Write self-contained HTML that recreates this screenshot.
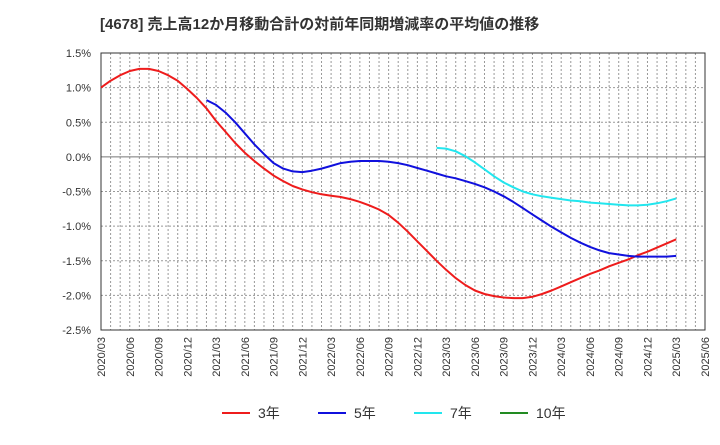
<!DOCTYPE html>
<html><head><meta charset="utf-8"><style>
body{margin:0;background:#fff;font-family:"Liberation Sans","Noto Sans CJK JP",sans-serif}
svg text{font-family:"Liberation Sans","Noto Sans CJK JP",sans-serif}
</style></head><body>
<svg id="c" width="720" height="440" xmlns="http://www.w3.org/2000/svg">
<text x="100" y="29" font-size="15" font-weight="bold" fill="#333">[4678]  売上高12か月移動合計の対前年同期増減率の平均値の推移</text>
<g id="grid"></g><g id="axes"></g><g id="series"></g><g id="legend"></g>
</svg>
<script>
const yTicks=[1.5,1.0,0.5,0.0,-0.5,-1.0,-1.5,-2.0,-2.5];
const xLabels=["2020/03","2020/06","2020/09","2020/12","2021/03","2021/06","2021/09","2021/12","2022/03","2022/06","2022/09","2022/12","2023/03","2023/06","2023/09","2023/12","2024/03","2024/06","2024/09","2024/12","2025/03","2025/06"];
const s3Start=0;
const s3=[1.00,1.10,1.18,1.24,1.27,1.27,1.24,1.18,1.10,0.98,0.85,0.70,0.52,0.36,0.20,0.06,-0.06,-0.17,-0.27,-0.35,-0.42,-0.47,-0.51,-0.54,-0.56,-0.58,-0.61,-0.65,-0.70,-0.76,-0.84,-0.95,-1.08,-1.22,-1.36,-1.50,-1.63,-1.75,-1.85,-1.93,-1.98,-2.01,-2.03,-2.04,-2.04,-2.02,-1.98,-1.93,-1.87,-1.81,-1.75,-1.69,-1.64,-1.58,-1.53,-1.48,-1.42,-1.37,-1.31,-1.25,-1.19];
const s5Start=11;
const s5=[0.82,0.75,0.64,0.50,0.34,0.18,0.04,-0.09,-0.17,-0.21,-0.22,-0.20,-0.17,-0.13,-0.09,-0.07,-0.06,-0.06,-0.06,-0.07,-0.09,-0.12,-0.16,-0.20,-0.24,-0.28,-0.31,-0.35,-0.39,-0.44,-0.50,-0.57,-0.65,-0.74,-0.83,-0.92,-1.01,-1.09,-1.17,-1.24,-1.30,-1.35,-1.39,-1.41,-1.43,-1.44,-1.44,-1.44,-1.44,-1.43];
const s7Start=35;
const s7=[0.13,0.12,0.08,0.01,-0.08,-0.18,-0.28,-0.37,-0.44,-0.50,-0.54,-0.57,-0.59,-0.61,-0.63,-0.64,-0.66,-0.67,-0.68,-0.69,-0.70,-0.70,-0.69,-0.67,-0.64,-0.60];
const s10Start=0;
const s10=[];
const NS="http://www.w3.org/2000/svg";
const L=101,R=705,T=53,B=330,yMax=1.5,yMin=-2.5,nMonths=63;
const xS=i=>L+(R-L)*i/nMonths;
const yS=v=>T+(B-T)*(yMax-v)/(yMax-yMin);
function mk(tag,attrs,parent){const e=document.createElementNS(NS,tag);for(const k in attrs)e.setAttribute(k,attrs[k]);parent.appendChild(e);return e;}
const grid=document.getElementById('grid'),axes=document.getElementById('axes'),ser=document.getElementById('series'),leg=document.getElementById('legend');
for(let m=1;m<nMonths;m++){const l=mk('line',{x1:xS(m),x2:xS(m),y1:T,y2:B,stroke:'#999','stroke-width':1,'stroke-dasharray':'2,2'},grid);

}
yTicks.forEach(v=>{const y=yS(v);
const l=mk('line',{x1:L,x2:R,y1:y,y2:y,stroke:v===0?'#777':'#999','stroke-width':1,'stroke-dasharray':v===0?'':'2,2'},grid);


const t=mk('text',{x:91,y:y+4,'text-anchor':'end','font-size':11,fill:'#333'},axes);t.textContent=v.toFixed(1)+'%';

});
const fr=mk('rect',{x:L,y:T,width:R-L,height:B-T,fill:'none',stroke:'#333','stroke-width':1},axes);


xLabels.forEach((s,i)=>{const x=xS(i*3);const t=mk('text',{transform:`translate(${x+4},337) rotate(-90)`,'text-anchor':'end','font-size':11,fill:'#333'},axes);t.textContent=s;

});
function line(arr,start,color,name){if(!arr.length)return;const pts=arr.map((v,i)=>xS(start+i).toFixed(1)+','+yS(v).toFixed(1)).join(' ');
const p=mk('polyline',{points:pts,fill:'none',stroke:color,'stroke-width':2,'stroke-linejoin':'round'},ser);

}
line(s3,s3Start,'#ee1c1c','series-3yr');
line(s5,s5Start,'#1010dd','series-5yr');
line(s7,s7Start,'#22e6ee','series-7yr');
line(s10,s10Start,'#228b22','series-10yr');
[['3年','#ee1c1c',222],['5年','#1010dd',318],['7年','#22e6ee',414],['10年','#228b22',500]].forEach(([n,c,x])=>{
const g=mk('g',{},leg);


mk('line',{x1:x,x2:x+28,y1:413,y2:413,stroke:c,'stroke-width':2},g);
const t=mk('text',{x:x+36,y:418,'font-size':14,fill:'#333'},g);t.textContent=n;});
</script>
</body></html>
